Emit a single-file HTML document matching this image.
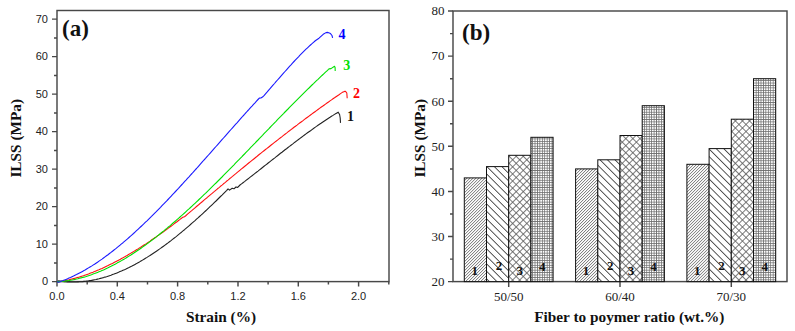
<!DOCTYPE html>
<html><head><meta charset="utf-8"><style>
html,body{margin:0;padding:0;background:#fff;width:795px;height:331px;overflow:hidden;}
svg{display:block;font-family:"Liberation Sans", sans-serif;}
</style></head><body>
<svg width="795" height="331" viewBox="0 0 795 331">
<rect width="795" height="331" fill="#fff"/>
<defs>
<pattern id="p1" patternUnits="userSpaceOnUse" width="2.12" height="2.12" patternTransform="rotate(45)"><rect width="2.12" height="2.12" fill="#fff"/><rect x="0" y="0" width="0.8" height="2.12" fill="#808080"/></pattern>
<pattern id="p2" patternUnits="userSpaceOnUse" width="5.3" height="5.3" patternTransform="rotate(-45) translate(3.4,0)"><rect width="5.3" height="5.3" fill="#fff"/><rect x="0" y="0" width="0.9" height="5.3" fill="#444"/></pattern>
<pattern id="p3" patternUnits="userSpaceOnUse" width="5" height="5" patternTransform="rotate(45)"><rect width="5" height="5" fill="#fff"/><rect x="0" y="0" width="0.8" height="5" fill="#5a5a5a"/><rect x="0" y="0" width="5" height="0.8" fill="#5a5a5a"/></pattern>
<pattern id="p4" patternUnits="userSpaceOnUse" width="2.43" height="2.43"><rect width="2.43" height="2.43" fill="#fff"/><rect x="0" y="0" width="0.75" height="2.43" fill="#6c6c6c"/><rect x="0" y="0" width="2.43" height="0.75" fill="#6c6c6c"/></pattern>
</defs>
<rect x="57" y="10.5" width="332" height="271.1" stroke="#484848" stroke-width="1.45" fill="none"/>
<path d="M52,281.6H57 M54,262.9H57 M52,244.1H57 M54,225.4H57 M52,206.6H57 M54,187.9H57 M52,169.1H57 M54,150.4H57 M52,131.6H57 M54,112.9H57 M52,94.1H57 M54,75.4H57 M52,56.6H57 M54,37.9H57 M52,19.1H57 M57.0,281.6V286.6 M87.2,281.6V284.6 M117.3,281.6V286.6 M147.5,281.6V284.6 M177.6,281.6V286.6 M207.8,281.6V284.6 M238.0,281.6V286.6 M268.1,281.6V284.6 M298.3,281.6V286.6 M328.4,281.6V284.6 M358.6,281.6V286.6 M388.8,281.6V284.6" stroke="#484848" stroke-width="1.45" fill="none"/>
<g font-family="Liberation Sans" font-size="11" fill="#222">
<text x="48" y="285.4" text-anchor="end">0</text>
<text x="48" y="247.9" text-anchor="end">10</text>
<text x="48" y="210.4" text-anchor="end">20</text>
<text x="48" y="172.9" text-anchor="end">30</text>
<text x="48" y="135.4" text-anchor="end">40</text>
<text x="48" y="97.9" text-anchor="end">50</text>
<text x="48" y="60.4" text-anchor="end">60</text>
<text x="48" y="22.9" text-anchor="end">70</text>
<text x="57.0" y="299.5" text-anchor="middle">0.0</text>
<text x="117.3" y="299.5" text-anchor="middle">0.4</text>
<text x="177.6" y="299.5" text-anchor="middle">0.8</text>
<text x="238.0" y="299.5" text-anchor="middle">1.2</text>
<text x="298.3" y="299.5" text-anchor="middle">1.6</text>
<text x="358.6" y="299.5" text-anchor="middle">2.0</text>
</g>
<g font-family="Liberation Serif" font-weight="bold" fill="#111">
<text x="221" y="321.5" font-size="15.3" text-anchor="middle">Strain (%)</text>
<text transform="translate(21,138.3) rotate(-90)" font-size="15.3" text-anchor="middle">ILSS (MPa)</text>
<text x="62" y="35.5" font-size="23">(a)</text>
</g>
<path d="M57.0,281.8 L58.5,280.9 L60.0,281.1 L61.5,281.3 L63.0,281.5 L64.5,281.6 L66.0,281.8 L67.5,281.9 L69.0,281.9 L70.5,282.0 L72.0,282.0 L73.5,282.0 L75.0,282.0 L76.5,282.0 L78.0,281.9 L79.5,281.8 L81.0,281.7 L82.5,281.6 L84.0,281.4 L85.5,281.3 L87.0,281.1 L88.5,280.9 L90.0,280.6 L91.5,280.4 L93.0,280.1 L94.5,279.8 L96.0,279.5 L97.5,279.1 L99.0,278.8 L100.5,278.4 L102.0,278.0 L103.5,277.6 L105.0,277.1 L106.5,276.7 L108.0,276.2 L109.5,275.7 L111.0,275.2 L112.5,274.6 L114.0,274.1 L115.5,273.5 L117.0,272.9 L118.5,272.3 L120.0,271.6 L121.5,271.0 L123.0,270.3 L124.5,269.7 L126.0,269.0 L127.5,268.2 L129.0,267.5 L130.5,266.7 L132.0,266.0 L133.5,265.2 L135.0,264.4 L136.5,263.6 L138.0,262.7 L139.5,261.9 L141.0,261.0 L142.5,260.1 L144.0,259.2 L145.5,258.3 L147.0,257.4 L148.5,256.4 L150.0,255.5 L151.5,254.5 L153.0,253.5 L154.5,252.5 L156.0,251.5 L157.5,250.5 L159.0,249.4 L160.5,248.4 L162.0,247.3 L163.5,246.2 L165.0,245.1 L166.5,244.0 L168.0,242.9 L169.5,241.7 L171.0,240.6 L172.5,239.4 L174.0,238.2 L175.5,237.1 L177.0,235.9 L178.5,234.6 L180.0,233.4 L181.5,232.2 L183.0,230.9 L184.5,229.7 L186.0,228.4 L187.5,227.1 L189.0,225.8 L190.5,224.5 L192.0,223.2 L193.5,221.9 L195.0,220.6 L196.5,219.2 L198.0,217.9 L199.5,216.5 L201.0,215.2 L202.5,213.8 L204.0,212.4 L205.5,211.0 L207.0,209.6 L208.5,208.2 L210.0,206.7 L211.5,205.3 L213.0,203.9 L214.5,202.4 L216.0,201.0 L217.5,199.5 L219.0,198.0 L220.5,196.5 L222.0,195.1 L223.5,193.6 L225.0,192.1 L226.5,190.6 L228.0,189.0 L228.6,189.2 L229.5,190.1 L232.2,188.3 L234.0,188.8 L235.9,187.0 L237.7,187.4 L240.0,185.0 L241.5,183.9 L243.0,182.7 L244.5,181.6 L246.0,180.4 L247.5,179.3 L249.0,178.1 L250.5,176.9 L252.0,175.8 L253.5,174.6 L255.0,173.4 L256.5,172.2 L258.0,171.1 L259.5,169.9 L261.0,168.7 L262.5,167.5 L264.0,166.3 L265.5,165.1 L267.0,164.0 L268.5,162.8 L270.0,161.6 L271.5,160.4 L273.0,159.2 L274.5,158.1 L276.0,156.9 L277.5,155.7 L279.0,154.5 L280.5,153.3 L282.0,152.2 L283.5,151.0 L285.0,149.8 L286.5,148.7 L288.0,147.5 L289.5,146.4 L291.0,145.2 L292.5,144.1 L294.0,142.9 L295.5,141.8 L297.0,140.6 L298.5,139.5 L300.0,138.4 L301.5,137.3 L303.0,136.1 L304.5,135.0 L306.0,133.9 L307.5,132.8 L309.0,131.7 L310.5,130.7 L312.0,129.6 L313.5,128.5 L315.0,127.4 L316.5,126.4 L318.0,125.3 L319.5,124.3 L321.0,123.3 L322.5,122.2 L324.0,121.2 L325.5,120.2 L327.0,119.2 L328.5,118.2 L330.0,117.3 L331.5,116.3 L333.0,115.4 L334.5,114.4 L336.0,113.5 L336.5,113.2 L338.2,112.2 L339.6,114.5 L340.2,118.0 L340.5,122.9" stroke="#222" stroke-width="1.1" fill="none" stroke-linejoin="round"/>
<path d="M57.0,281.8 L58.5,281.8 L60.0,281.6 L61.5,281.3 L63.0,281.1 L64.5,280.8 L66.0,280.4 L67.5,280.1 L69.0,279.8 L70.5,279.4 L72.0,279.0 L73.5,278.6 L75.0,278.2 L76.5,277.8 L78.0,277.4 L79.5,276.9 L81.0,276.4 L82.5,276.0 L84.0,275.5 L85.5,274.9 L87.0,274.4 L88.5,273.9 L90.0,273.3 L91.5,272.7 L93.0,272.2 L94.5,271.6 L96.0,270.9 L97.5,270.3 L99.0,269.7 L100.5,269.0 L102.0,268.4 L103.5,267.7 L105.0,267.0 L106.5,266.3 L108.0,265.6 L109.5,264.8 L111.0,264.1 L112.5,263.4 L114.0,262.6 L115.5,261.8 L117.0,261.0 L118.5,260.2 L120.0,259.4 L121.5,258.6 L123.0,257.8 L124.5,256.9 L126.0,256.1 L127.5,255.2 L129.0,254.3 L130.5,253.4 L132.0,252.5 L133.5,251.6 L135.0,250.7 L136.5,249.8 L138.0,248.9 L139.5,247.9 L141.0,247.0 L142.5,246.0 L144.0,245.0 L145.5,244.1 L147.0,243.1 L148.5,242.1 L150.0,241.1 L151.5,240.0 L153.0,239.0 L154.5,238.0 L156.0,237.0 L157.5,235.9 L159.0,234.9 L160.5,233.8 L162.0,232.7 L163.5,231.7 L165.0,230.6 L166.5,229.5 L168.0,228.4 L169.5,227.3 L171.0,226.2 L172.5,225.1 L174.0,223.9 L175.5,222.8 L177.0,221.7 L178.5,220.5 L180.0,219.4 L181.5,218.2 L183.0,217.1 L184.5,216.7 L186.0,215.5 L187.5,214.2 L189.0,212.9 L190.5,211.6 L192.0,210.4 L193.5,209.1 L195.0,207.8 L196.5,206.5 L198.0,205.3 L199.5,204.0 L201.0,202.7 L202.5,201.5 L204.0,200.2 L205.5,198.9 L207.0,197.7 L208.5,196.4 L210.0,195.1 L211.5,193.9 L213.0,192.6 L214.5,191.4 L216.0,190.1 L217.5,188.8 L219.0,187.6 L220.5,186.3 L222.0,185.1 L223.5,183.8 L225.0,182.6 L226.5,181.3 L228.0,180.1 L229.5,178.8 L231.0,177.6 L232.5,176.4 L234.0,175.1 L235.5,173.9 L237.0,172.6 L238.5,171.4 L240.0,170.2 L241.5,168.9 L243.0,167.7 L244.5,166.5 L246.0,165.3 L247.5,164.0 L249.0,162.8 L250.5,161.6 L252.0,160.4 L253.5,159.2 L255.0,158.0 L256.5,156.8 L258.0,155.5 L259.5,154.3 L261.0,153.1 L262.5,151.9 L264.0,150.7 L265.5,149.5 L267.0,148.4 L268.5,147.2 L270.0,146.0 L271.5,144.8 L273.0,143.6 L274.5,142.4 L276.0,141.3 L277.5,140.1 L279.0,138.9 L280.5,137.7 L282.0,136.6 L283.5,135.4 L285.0,134.2 L286.5,133.1 L288.0,131.9 L289.5,130.8 L291.0,129.6 L292.5,128.5 L294.0,127.3 L295.5,126.2 L297.0,125.1 L298.5,123.9 L300.0,122.8 L301.5,121.7 L303.0,120.6 L304.5,119.4 L306.0,118.3 L307.5,117.2 L309.0,116.1 L310.5,115.0 L312.0,113.9 L313.5,112.8 L315.0,111.7 L316.5,110.6 L318.0,109.5 L319.5,108.4 L321.0,107.3 L322.5,106.3 L324.0,105.2 L325.5,104.1 L327.0,103.0 L328.5,102.0 L330.0,100.9 L331.5,99.9 L333.0,98.8 L334.5,97.8 L336.0,96.7 L337.5,95.7 L339.0,94.7 L340.5,93.6 L342.0,92.6 L342.5,92.3 L344.5,91.4 L345.5,91.3 L346.8,93.0 L347.2,98.3" stroke="#ff1010" stroke-width="1.1" fill="none" stroke-linejoin="round"/>
<path d="M57.0,281.8 L58.5,281.6 L60.0,281.5 L61.5,281.4 L63.0,281.2 L64.5,281.1 L66.0,280.9 L67.5,280.7 L69.0,280.5 L70.5,280.2 L72.0,280.0 L73.5,279.7 L75.0,279.4 L76.5,279.0 L78.0,278.7 L79.5,278.3 L81.0,277.9 L82.5,277.5 L84.0,277.1 L85.5,276.7 L87.0,276.2 L88.5,275.7 L90.0,275.2 L91.5,274.7 L93.0,274.1 L94.5,273.6 L96.0,273.0 L97.5,272.4 L99.0,271.8 L100.5,271.2 L102.0,270.5 L103.5,269.9 L105.0,269.2 L106.5,268.5 L108.0,267.8 L109.5,267.0 L111.0,266.3 L112.5,265.5 L114.0,264.8 L115.5,264.0 L117.0,263.1 L118.5,262.3 L120.0,261.5 L121.5,260.6 L123.0,259.7 L124.5,258.9 L126.0,258.0 L127.5,257.0 L129.0,256.1 L130.5,255.2 L132.0,254.2 L133.5,253.2 L135.0,252.2 L136.5,251.2 L138.0,250.2 L139.5,249.2 L141.0,248.2 L142.5,247.1 L144.0,246.0 L145.5,245.0 L147.0,243.9 L148.5,242.8 L150.0,241.6 L151.5,240.5 L153.0,239.4 L154.5,238.2 L156.0,237.1 L157.5,235.9 L159.0,234.7 L160.5,233.5 L162.0,232.3 L163.5,231.1 L165.0,229.8 L166.5,228.6 L168.0,227.3 L169.5,226.1 L171.0,224.8 L172.5,223.5 L174.0,222.2 L175.5,221.0 L177.0,219.6 L178.5,218.3 L180.0,217.0 L181.5,215.7 L183.0,214.3 L184.5,213.0 L186.0,211.6 L187.5,210.2 L189.0,208.9 L190.5,207.5 L192.0,206.1 L193.5,204.7 L195.0,203.3 L196.5,201.9 L198.0,200.5 L199.5,199.0 L201.0,197.6 L202.5,196.2 L204.0,194.7 L205.5,193.3 L207.0,191.8 L208.5,190.4 L210.0,188.9 L211.5,187.4 L213.0,185.9 L214.5,184.4 L216.0,183.0 L217.5,181.5 L219.0,180.0 L220.5,178.5 L222.0,177.0 L223.5,175.4 L225.0,173.9 L226.5,172.4 L228.0,170.9 L229.5,169.4 L231.0,167.8 L232.5,166.3 L234.0,164.8 L235.5,163.2 L237.0,161.7 L238.5,160.2 L240.0,158.6 L241.5,157.1 L243.0,155.5 L244.5,154.0 L246.0,152.4 L247.5,150.9 L249.0,149.3 L250.5,147.7 L252.0,146.2 L253.5,144.6 L255.0,143.1 L256.5,141.5 L258.0,140.0 L259.5,138.4 L261.0,136.8 L262.5,135.3 L264.0,133.7 L265.5,132.2 L267.0,130.6 L268.5,129.1 L270.0,127.5 L271.5,125.9 L273.0,124.4 L274.5,122.8 L276.0,121.3 L277.5,119.7 L279.0,118.2 L280.5,116.7 L282.0,115.1 L283.5,113.6 L285.0,112.0 L286.5,110.5 L288.0,109.0 L289.5,107.4 L291.0,105.9 L292.5,104.4 L294.0,102.9 L295.5,101.4 L297.0,99.9 L298.5,98.4 L300.0,96.9 L301.5,95.4 L303.0,93.9 L304.5,92.4 L306.0,90.9 L307.5,89.4 L309.0,88.0 L310.5,86.5 L312.0,85.0 L313.5,83.6 L315.0,82.1 L316.5,80.7 L318.0,79.3 L319.5,77.8 L321.0,76.4 L322.5,75.0 L324.0,73.6 L325.5,72.2 L327.0,70.8 L328.5,69.4 L329.0,68.9 L331.0,68.6 L334.5,66.3 L335.1,67.5 L335.2,71.0" stroke="#00e000" stroke-width="1.1" fill="none" stroke-linejoin="round"/>
<path d="M57.0,281.8 L58.5,282.2 L60.0,281.7 L61.5,281.1 L63.0,280.6 L64.5,280.0 L66.0,279.4 L67.5,278.8 L69.0,278.1 L70.5,277.5 L72.0,276.8 L73.5,276.1 L75.0,275.3 L76.5,274.6 L78.0,273.8 L79.5,273.0 L81.0,272.2 L82.5,271.4 L84.0,270.6 L85.5,269.7 L87.0,268.8 L88.5,267.9 L90.0,267.0 L91.5,266.1 L93.0,265.1 L94.5,264.2 L96.0,263.2 L97.5,262.2 L99.0,261.1 L100.5,260.1 L102.0,259.1 L103.5,258.0 L105.0,256.9 L106.5,255.8 L108.0,254.7 L109.5,253.5 L111.0,252.4 L112.5,251.2 L114.0,250.0 L115.5,248.9 L117.0,247.6 L118.5,246.4 L120.0,245.2 L121.5,243.9 L123.0,242.7 L124.5,241.4 L126.0,240.1 L127.5,238.8 L129.0,237.5 L130.5,236.2 L132.0,234.8 L133.5,233.5 L135.0,232.1 L136.5,230.7 L138.0,229.3 L139.5,227.9 L141.0,226.5 L142.5,225.1 L144.0,223.7 L145.5,222.2 L147.0,220.8 L148.5,219.3 L150.0,217.8 L151.5,216.4 L153.0,214.9 L154.5,213.4 L156.0,211.9 L157.5,210.3 L159.0,208.8 L160.5,207.3 L162.0,205.7 L163.5,204.2 L165.0,202.6 L166.5,201.1 L168.0,199.5 L169.5,197.9 L171.0,196.3 L172.5,194.7 L174.0,193.1 L175.5,191.5 L177.0,189.9 L178.5,188.3 L180.0,186.6 L181.5,185.0 L183.0,183.4 L184.5,181.7 L186.0,180.1 L187.5,178.4 L189.0,176.8 L190.5,175.1 L192.0,173.5 L193.5,171.8 L195.0,170.1 L196.5,168.5 L198.0,166.8 L199.5,165.1 L201.0,163.4 L202.5,161.7 L204.0,160.0 L205.5,158.4 L207.0,156.7 L208.5,155.0 L210.0,153.3 L211.5,151.6 L213.0,149.9 L214.5,148.2 L216.0,146.5 L217.5,144.8 L219.0,143.1 L220.5,141.4 L222.0,139.7 L223.5,138.0 L225.0,136.3 L226.5,134.6 L228.0,132.9 L229.5,131.2 L231.0,129.5 L232.5,127.8 L234.0,126.1 L235.5,124.4 L237.0,122.8 L238.5,121.1 L240.0,119.4 L241.5,117.7 L243.0,116.0 L244.5,114.4 L246.0,112.7 L247.5,111.0 L249.0,109.4 L250.5,107.7 L252.0,106.1 L253.5,104.4 L255.0,102.8 L256.5,101.1 L258.0,99.5 L259.3,98.1 L260.9,98.0 L262.5,97.0 L264.0,95.6 L265.5,93.9 L267.0,92.2 L268.5,90.4 L270.0,88.7 L271.5,86.9 L273.0,85.2 L274.5,83.5 L276.0,81.7 L277.5,80.0 L279.0,78.3 L280.5,76.6 L282.0,74.9 L283.5,73.2 L285.0,71.5 L286.5,69.8 L288.0,68.1 L289.5,66.4 L291.0,64.8 L292.5,63.1 L294.0,61.5 L295.5,59.9 L297.0,58.3 L298.5,56.8 L300.0,55.2 L301.5,53.7 L303.0,52.2 L304.5,50.7 L306.0,49.2 L307.5,47.8 L309.0,46.4 L310.5,45.0 L312.0,43.7 L313.5,42.3 L315.0,41.0 L316.0,40.2 L319.0,38.2 L323.2,34.3 L326.0,32.6 L328.0,32.4 L330.5,33.6 L332.0,35.5 L332.6,37.8" stroke="#1a1aff" stroke-width="1.1" fill="none" stroke-linejoin="round"/>
<g font-family="Liberation Serif" font-weight="bold" font-size="14">
<text x="338.5" y="38.6" fill="#0000ff">4</text>
<text x="343.3" y="69.8" fill="#00e000">3</text>
<text x="353" y="98.2" fill="#ff0000">2</text>
<text x="347" y="121.4" fill="#111">1</text>
</g>
<rect x="453" y="11" width="334" height="270.6" stroke="#484848" stroke-width="1.45" fill="none"/>
<path d="M448,281.6H453 M450,259.1H453 M448,236.5H453 M450,214.0H453 M448,191.4H453 M450,168.9H453 M448,146.3H453 M450,123.8H453 M448,101.2H453 M450,78.7H453 M448,56.1H453 M450,33.6H453 M448,11.0H453 M508.7,281.6V287 M620.0,281.6V287 M731.3,281.6V287" stroke="#484848" stroke-width="1.45" fill="none"/>
<g font-family="Liberation Serif" font-size="13" fill="#222">
<text x="444.5" y="285.9" text-anchor="end">20</text>
<text x="444.5" y="240.8" text-anchor="end">30</text>
<text x="444.5" y="195.7" text-anchor="end">40</text>
<text x="444.5" y="150.6" text-anchor="end">50</text>
<text x="444.5" y="105.5" text-anchor="end">60</text>
<text x="444.5" y="60.4" text-anchor="end">70</text>
<text x="444.5" y="15.3" text-anchor="end">80</text>
<text x="508.7" y="301.2" text-anchor="middle">50/50</text>
<text x="620.0" y="301.2" text-anchor="middle">60/40</text>
<text x="731.3" y="301.2" text-anchor="middle">70/30</text>
</g>
<rect x="464.3" y="177.9" width="22.2" height="103.7" fill="url(#p1)" stroke="#111" stroke-width="1"/>
<rect x="486.5" y="166.6" width="22.2" height="115.0" fill="url(#p2)" stroke="#111" stroke-width="1"/>
<rect x="508.7" y="155.3" width="22.2" height="126.3" fill="url(#p3)" stroke="#111" stroke-width="1"/>
<rect x="530.9" y="137.3" width="22.2" height="144.3" fill="url(#p4)" stroke="#111" stroke-width="1"/>
<rect x="575.6" y="168.9" width="22.2" height="112.8" fill="url(#p1)" stroke="#111" stroke-width="1"/>
<rect x="597.8" y="159.8" width="22.2" height="121.8" fill="url(#p2)" stroke="#111" stroke-width="1"/>
<rect x="620.0" y="135.5" width="22.2" height="146.1" fill="url(#p3)" stroke="#111" stroke-width="1"/>
<rect x="642.2" y="105.7" width="22.2" height="175.9" fill="url(#p4)" stroke="#111" stroke-width="1"/>
<rect x="686.9" y="164.3" width="22.2" height="117.3" fill="url(#p1)" stroke="#111" stroke-width="1"/>
<rect x="709.1" y="148.6" width="22.2" height="133.0" fill="url(#p2)" stroke="#111" stroke-width="1"/>
<rect x="731.3" y="119.2" width="22.2" height="162.4" fill="url(#p3)" stroke="#111" stroke-width="1"/>
<rect x="753.5" y="78.7" width="22.2" height="202.9" fill="url(#p4)" stroke="#111" stroke-width="1"/>
<g font-family="Liberation Serif" font-weight="bold" font-size="13" fill="#111" text-anchor="middle">
<text x="474.7" y="275.4">1</text>
<text x="499.0" y="270">2</text>
<text x="519.7" y="274.5">3</text>
<text x="542.2" y="270.8">4</text>
<text x="586.0" y="275.4">1</text>
<text x="610.3" y="270">2</text>
<text x="631.0" y="274.5">3</text>
<text x="653.5" y="270.8">4</text>
<text x="697.3" y="275.4">1</text>
<text x="721.6" y="270">2</text>
<text x="742.3" y="274.5">3</text>
<text x="764.8" y="270.8">4</text>
</g>
<g font-family="Liberation Serif" font-weight="bold" fill="#111">
<text x="629.3" y="322" font-size="15.3" text-anchor="middle">Fiber to poymer ratio (wt.%)</text>
<text transform="translate(425,138.3) rotate(-90)" font-size="15.3" text-anchor="middle">ILSS (MPa)</text>
<text x="462" y="39.5" font-size="23">(b)</text>
</g>
</svg>
</body></html>
